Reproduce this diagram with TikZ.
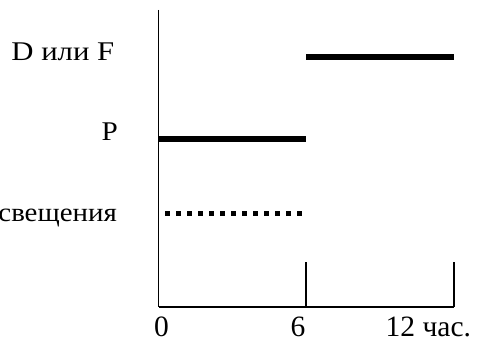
\documentclass[tikz,border=0pt]{standalone}
\usepackage{fontspec}
\usepackage{graphicx}
\setmainfont{Liberation Serif}
\begin{document}
\begin{tikzpicture}[x=1pt,y=1pt,
  lbl/.style={font=\fontsize{26.5}{30}\selectfont, inner sep=0pt, anchor=base east},
  ticklbl/.style={font=\fontsize{29.5}{33}\selectfont, inner sep=0pt, anchor=base},
  axisline/.style={line width=1.2pt},
  bar/.style={line width=6pt},
  dotbar/.style={line width=5pt, dash pattern=on 5pt off 6pt}]
\useasboundingbox (0,0) rectangle (479,340);
% axes
\coordinate (top) at (158.5,330);
\coordinate (origin) at (158.5,33);
\coordinate (six) at (306,33);
\coordinate (twelve) at (454,33);
\coordinate (sixtop) at (306,78);
\coordinate (twelvetop) at (454,78);
\draw[line width=1.6pt] (top) -- (origin);
\draw[axisline] (origin) -- (twelve);
\draw[axisline] (six) -- (sixtop);
\draw[axisline] (twelve) -- (twelvetop);
% bars
\coordinate (d1) at (306,283.3);
\coordinate (d2) at (454,283.3);
\coordinate (p1) at (158.5,201);
\coordinate (p2) at (306,201);
\coordinate (s1) at (165,126.5);
\coordinate (s2) at (306,126.5);
\draw[bar] (d1) -- (d2);
\draw[bar] (p1) -- (p2);
\draw[dotbar] (s1) -- (s2);
% labels
\node[lbl] (ldf) at (114.5,279) {\scalebox{1.16}[1.02]{D или F}};
\node[lbl] (lp) at (118,199) {\scalebox{1.1}[1.02]{P}};
\node[lbl] (ls) at (117,118.3) {\scalebox{1.09}[1]{свещения}};
\node[ticklbl] (t0) at (161.5,4) {0};
\node[ticklbl] (t6) at (298,4) {6};
\node[ticklbl, anchor=base west] (t12) at (385.5,4) {12 час.};
\end{tikzpicture}
\end{document}
